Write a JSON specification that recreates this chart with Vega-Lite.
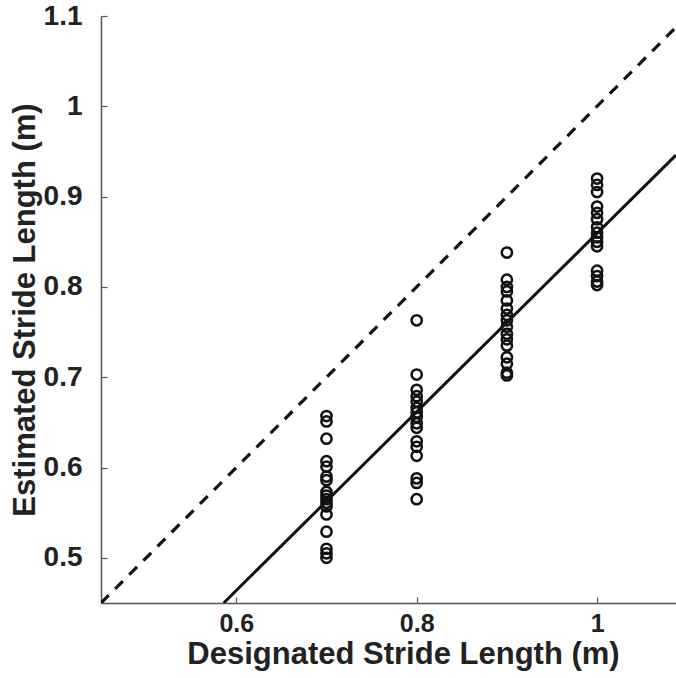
{
  "$schema": "https://vega.github.io/schema/vega-lite/v6.json",
  "width": 575,
  "height": 587,
  "autosize": "none",
  "padding": {"left": 101, "top": 16, "right": 0, "bottom": 75},
  "background": "white",
  "config": {
    "view": {"stroke": null},
    "font": "Liberation Sans",
    "axis": {
      "grid": false,
      "labelFont": "Liberation Sans",
      "labelFontWeight": "bold",
      "labelFontSize": 27,
      "labelColor": "#222",
      "titleFont": "Liberation Sans",
      "titleFontWeight": "bold",
      "titleFontSize": 31,
      "titleColor": "#222",
      "domainColor": "#555",
      "domainWidth": 1.5,
      "tickColor": "#555",
      "tickWidth": 1.2,
      "format": "~g"
    }
  },
  "datasets": {
    "pts": [
      {"d": 0.7, "e": 0.657}, {"d": 0.7, "e": 0.651}, {"d": 0.7, "e": 0.632}, {"d": 0.7, "e": 0.607},
      {"d": 0.7, "e": 0.601}, {"d": 0.7, "e": 0.590}, {"d": 0.7, "e": 0.586}, {"d": 0.7, "e": 0.573},
      {"d": 0.7, "e": 0.569}, {"d": 0.7, "e": 0.565}, {"d": 0.7, "e": 0.561}, {"d": 0.7, "e": 0.557},
      {"d": 0.7, "e": 0.548}, {"d": 0.7, "e": 0.529}, {"d": 0.7, "e": 0.510}, {"d": 0.7, "e": 0.505},
      {"d": 0.7, "e": 0.500},
      {"d": 0.8, "e": 0.763}, {"d": 0.8, "e": 0.703}, {"d": 0.8, "e": 0.686}, {"d": 0.8, "e": 0.679},
      {"d": 0.8, "e": 0.673}, {"d": 0.8, "e": 0.666}, {"d": 0.8, "e": 0.661}, {"d": 0.8, "e": 0.656},
      {"d": 0.8, "e": 0.649}, {"d": 0.8, "e": 0.644}, {"d": 0.8, "e": 0.629}, {"d": 0.8, "e": 0.623},
      {"d": 0.8, "e": 0.613}, {"d": 0.8, "e": 0.588}, {"d": 0.8, "e": 0.583}, {"d": 0.8, "e": 0.565},
      {"d": 0.9, "e": 0.838}, {"d": 0.9, "e": 0.808}, {"d": 0.9, "e": 0.800}, {"d": 0.9, "e": 0.795},
      {"d": 0.9, "e": 0.785}, {"d": 0.9, "e": 0.776}, {"d": 0.9, "e": 0.769}, {"d": 0.9, "e": 0.763},
      {"d": 0.9, "e": 0.756}, {"d": 0.9, "e": 0.748}, {"d": 0.9, "e": 0.742}, {"d": 0.9, "e": 0.735},
      {"d": 0.9, "e": 0.722}, {"d": 0.9, "e": 0.715}, {"d": 0.9, "e": 0.705}, {"d": 0.9, "e": 0.702},
      {"d": 1.0, "e": 0.920}, {"d": 1.0, "e": 0.913}, {"d": 1.0, "e": 0.905}, {"d": 1.0, "e": 0.889},
      {"d": 1.0, "e": 0.882}, {"d": 1.0, "e": 0.875}, {"d": 1.0, "e": 0.866}, {"d": 1.0, "e": 0.860},
      {"d": 1.0, "e": 0.855}, {"d": 1.0, "e": 0.850}, {"d": 1.0, "e": 0.845}, {"d": 1.0, "e": 0.818},
      {"d": 1.0, "e": 0.812}, {"d": 1.0, "e": 0.806}, {"d": 1.0, "e": 0.802}
    ],
    "lines": [
      {"d": 0.45, "e": 0.45, "s": "identity"},
      {"d": 1.0875, "e": 1.0875, "s": "identity"},
      {"d": 0.586, "e": 0.45, "s": "fit"},
      {"d": 1.0875, "e": 0.946, "s": "fit"}
    ]
  },
  "layer": [
    {
      "data": {"name": "lines"},
      "transform": [{"filter": "datum.s === 'identity'"}],
      "mark": {"type": "line", "color": "#111", "strokeWidth": 3.2, "strokeDash": [11, 9], "clip": true},
      "encoding": {
        "x": {"field": "d", "type": "quantitative", "scale": {"domain": [0.45, 1.0875], "nice": false, "zero": false},
          "axis": {"values": [0.6, 0.8, 1], "title": "Designated Stride Length (m)", "tickSize": -6, "labelPadding": 14, "labelFontSize": 25, "titlePadding": 3, "titleFontSize": 31, "labelFlush": false, "titleX": 302}},
        "y": {"field": "e", "type": "quantitative", "scale": {"domain": [0.45, 1.1], "nice": false, "zero": false},
          "axis": {"values": [0.5, 0.6, 0.7, 0.8, 0.9, 1, 1.1], "title": "Estimated Stride Length (m)", "tickSize": -6, "labelPadding": 25, "titlePadding": 2, "labelFontSize": 28, "labelFlush": false}}
      }
    },
    {
      "data": {"name": "lines"},
      "transform": [{"filter": "datum.s === 'fit'"}],
      "mark": {"type": "line", "color": "#111", "strokeWidth": 3, "clip": true},
      "encoding": {
        "x": {"field": "d", "type": "quantitative"},
        "y": {"field": "e", "type": "quantitative"}
      }
    },
    {
      "data": {"name": "pts"},
      "mark": {"type": "point", "shape": "circle", "filled": false, "color": "#111", "size": 105, "strokeWidth": 2.5, "opacity": 1},
      "encoding": {
        "x": {"field": "d", "type": "quantitative"},
        "y": {"field": "e", "type": "quantitative"}
      }
    }
  ]
}
